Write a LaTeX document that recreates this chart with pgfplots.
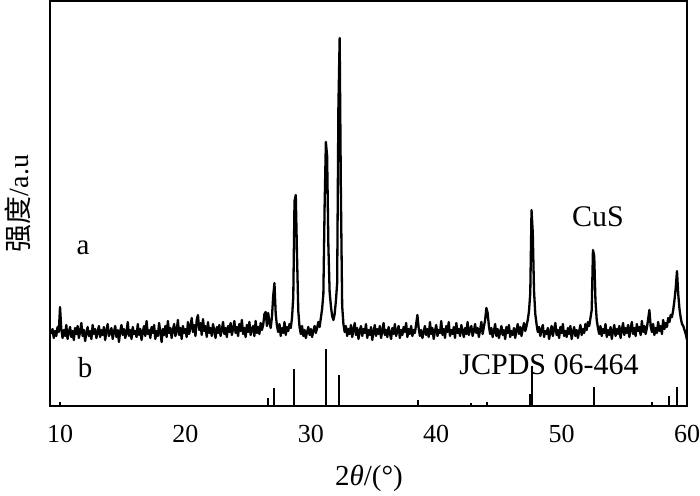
\documentclass[border=0pt]{standalone}
\usepackage{fontspec}
\setmainfont{Liberation Serif}
\newfontfamily\cjk{Noto Sans CJK SC}
\usepackage{pgfplots}
\pgfplotsset{compat=1.18}

\begin{document}
\begin{tikzpicture}
\useasboundingbox (0,0) rectangle (700pt,495pt);
\begin{axis}[
  at={(50pt,89pt)}, anchor=south west,
  scale only axis, width=637pt, height=405pt,
  xmin=9.2, xmax=60, ymin=0, ymax=405,
  xtick={10,20,...,60}, ytick=\empty,
  major tick length=0pt,
  axis line style={line width=2.6pt},
  /pgf/number format/assume math mode=true,
  xticklabel style={font=\fontsize{26}{30}\selectfont, anchor=center, yshift=-28pt},
  xlabel={2{\itshape θ}/(°)},
  xlabel style={font=\fontsize{29}{34}\selectfont, at={(rel axis cs:0.5008,-0.178)}, anchor=center},
  ylabel={{\cjk 强度}/a.u},
  ylabel style={font=\fontsize{28}{32}\selectfont, at={(rel axis cs:-0.0502,0.5)}, anchor=center},
]
% pattern a
\addplot[black, line width=2.3pt, line join=round] coordinates {
(9.3,72)(9.4,77)(9.5,68)(9.6,75)(9.7,70)(9.8,79)(9.9,74)(10.0,99)(10.1,77)(10.2,68)
(10.3,76)(10.4,70)(10.5,81)(10.6,67)(10.7,74)(10.8,79)(10.9,69)(11.0,75)(11.1,66)(11.2,78)
(11.3,72)(11.4,80)(11.5,68)(11.6,74)(11.7,83)(11.8,70)(11.9,76)(12.0,65)(12.1,73)(12.2,79)
(12.3,70)(12.4,75)(12.5,67)(12.6,81)(12.7,72)(12.8,77)(12.9,68)(13.0,74)(13.1,80)(13.2,69)
(13.3,76)(13.4,71)(13.5,79)(13.6,66)(13.7,75)(13.8,82)(13.9,70)(14.0,73)(14.1,78)(14.2,67)
(14.3,74)(14.4,80)(14.5,69)(14.6,76)(14.7,64)(14.8,75)(14.9,81)(15.0,71)(15.1,77)(15.2,68)
(15.3,73)(15.4,84)(15.5,70)(15.6,76)(15.7,67)(15.8,79)(15.9,72)(16.0,75)(16.1,69)(16.2,82)
(16.3,71)(16.4,77)(16.5,66)(16.6,74)(16.7,80)(16.8,70)(16.9,85)(17.0,72)(17.1,76)(17.2,68)
(17.3,79)(17.4,73)(17.5,81)(17.6,67)(17.7,75)(17.8,70)(17.9,83)(18.0,74)(18.1,64)(18.2,77)
(18.3,71)(18.4,80)(18.5,69)(18.6,85)(18.7,73)(18.8,78)(18.9,68)(19.0,76)(19.1,82)(19.2,70)
(19.3,75)(19.4,86)(19.5,71)(19.6,78)(19.7,67)(19.8,80)(19.9,73)(20.0,77)(20.1,69)(20.2,84)
(20.3,72)(20.4,79)(20.5,88)(20.6,74)(20.7,81)(20.8,70)(20.9,86)(21.0,91)(21.1,76)(21.2,83)
(21.3,71)(21.4,87)(21.5,75)(21.6,80)(21.7,69)(21.8,84)(21.9,73)(22.0,78)(22.1,70)(22.2,82)
(22.3,75)(22.4,68)(22.5,79)(22.6,73)(22.7,81)(22.8,70)(22.9,76)(23.0,84)(23.1,72)(23.2,78)
(23.3,69)(23.4,80)(23.5,74)(23.6,83)(23.7,71)(23.8,77)(23.9,85)(24.0,73)(24.1,79)(24.2,70)
(24.3,82)(24.4,75)(24.5,86)(24.6,72)(24.7,78)(24.8,69)(24.9,81)(25.0,74)(25.1,84)(25.2,71)
(25.3,77)(25.4,80)(25.5,70)(25.6,85)(25.7,73)(25.8,79)(25.9,72)(26.0,83)(26.1,76)(26.2,81)
(26.3,92)(26.4,94)(26.5,80)(26.6,93)(26.7,84)(26.8,78)(26.9,89)(27.0,110)(27.1,123)(27.2,92)
(27.3,80)(27.4,74)(27.5,82)(27.6,70)(27.7,78)(27.8,73)(27.9,84)(28.0,71)(28.1,79)(28.2,75)
(28.3,82)(28.4,78)(28.5,88)(28.6,109)(28.7,205)(28.8,211)(28.9,150)(29.0,95)(29.1,79)(29.2,72)
(29.3,80)(29.4,70)(29.5,76)(29.6,68)(29.7,74)(29.8,79)(29.9,71)(30.0,77)(30.1,69)(30.2,75)
(30.3,80)(30.4,73)(30.5,78)(30.6,84)(30.7,79)(30.8,88)(30.9,97)(31.0,112)(31.1,200)(31.2,264)
(31.3,250)(31.4,160)(31.5,114)(31.6,100)(31.7,90)(31.8,86)(31.9,92)(32.0,105)(32.1,123)(32.2,300)
(32.3,368)(32.4,210)(32.5,100)(32.6,82)(32.7,74)(32.8,80)(32.9,70)(33.0,77)(33.1,72)(33.2,81)
(33.3,69)(33.4,76)(33.5,83)(33.6,71)(33.7,78)(33.8,67)(33.9,75)(34.0,80)(34.1,70)(34.2,77)
(34.3,73)(34.4,82)(34.5,68)(34.6,76)(34.7,71)(34.8,79)(34.9,66)(35.0,74)(35.1,81)(35.2,70)
(35.3,77)(35.4,72)(35.5,80)(35.6,68)(35.7,75)(35.8,83)(35.9,71)(36.0,76)(36.1,69)(36.2,79)
(36.3,73)(36.4,67)(36.5,78)(36.6,72)(36.7,82)(36.8,70)(36.9,75)(37.0,80)(37.1,68)(37.2,76)
(37.3,71)(37.4,79)(37.5,74)(37.6,83)(37.7,69)(37.8,77)(37.9,72)(38.0,80)(38.1,70)(38.2,76)
(38.3,73)(38.4,82)(38.5,91)(38.6,78)(38.7,70)(38.8,76)(38.9,68)(39.0,74)(39.1,80)(39.2,71)
(39.3,77)(39.4,69)(39.5,84)(39.6,72)(39.7,78)(39.8,67)(39.9,75)(40.0,81)(40.1,70)(40.2,76)
(40.3,73)(40.4,85)(40.5,71)(40.6,77)(40.7,68)(40.8,80)(40.9,74)(41.0,84)(41.1,70)(41.2,76)
(41.3,72)(41.4,79)(41.5,68)(41.6,83)(41.7,73)(41.8,77)(41.9,70)(42.0,81)(42.1,75)(42.2,69)
(42.3,78)(42.4,72)(42.5,84)(42.6,71)(42.7,77)(42.8,80)(42.9,70)(43.0,75)(43.1,82)(43.2,73)
(43.3,78)(43.4,69)(43.5,76)(43.6,84)(43.7,72)(43.8,79)(43.9,86)(44.0,98)(44.1,93)(44.2,80)
(44.3,72)(44.4,78)(44.5,69)(44.6,75)(44.7,82)(44.8,70)(44.9,77)(45.0,68)(45.1,74)(45.2,80)
(45.3,71)(45.4,76)(45.5,67)(45.6,79)(45.7,73)(45.8,81)(45.9,69)(46.0,75)(46.1,71)(46.2,78)
(46.3,68)(46.4,76)(46.5,82)(46.6,72)(46.7,79)(46.8,70)(46.9,77)(47.0,83)(47.1,75)(47.2,80)
(47.3,86)(47.4,95)(47.5,113)(47.6,196)(47.7,173)(47.8,115)(47.9,92)(48.0,82)(48.1,74)(48.2,79)
(48.3,70)(48.4,76)(48.5,81)(48.6,69)(48.7,75)(48.8,72)(48.9,78)(49.0,67)(49.1,74)(49.2,80)
(49.3,70)(49.4,77)(49.5,83)(49.6,71)(49.7,76)(49.8,68)(49.9,79)(50.0,73)(50.1,82)(50.2,70)
(50.3,75)(50.4,69)(50.5,78)(50.6,72)(50.7,80)(50.8,67)(50.9,74)(51.0,79)(51.1,70)(51.2,76)
(51.3,68)(51.4,75)(51.5,81)(51.6,71)(51.7,77)(51.8,73)(51.9,82)(52.0,76)(52.1,84)(52.2,80)
(52.3,88)(52.4,96)(52.5,156)(52.6,150)(52.7,105)(52.8,86)(52.9,78)(53.0,72)(53.1,80)(53.2,70)
(53.3,77)(53.4,73)(53.5,82)(53.6,69)(53.7,76)(53.8,71)(53.9,79)(54.0,67)(54.1,75)(54.2,81)
(54.3,70)(54.4,77)(54.5,72)(54.6,80)(54.7,68)(54.8,76)(54.9,83)(55.0,71)(55.1,78)(55.2,73)
(55.3,81)(55.4,69)(55.5,77)(55.6,84)(55.7,72)(55.8,78)(55.9,70)(56.0,82)(56.1,75)(56.2,79)
(56.3,71)(56.4,85)(56.5,74)(56.6,80)(56.7,72)(56.8,78)(56.9,87)(57.0,96)(57.1,80)(57.2,74)
(57.3,82)(57.4,71)(57.5,78)(57.6,73)(57.7,84)(57.8,75)(57.9,80)(58.0,72)(58.1,86)(58.2,77)
(58.3,83)(58.4,79)(58.5,88)(58.6,84)(58.7,91)(58.8,89)(58.9,96)(59.0,106)(59.1,118)(59.2,135)
(59.3,112)(59.4,97)(59.5,88)(59.6,82)(59.7,80)(59.8,76)(59.9,72)(60.0,66)
};
% pattern b: JCPDS 06-464 sticks
\addplot[black, ycomb, line width=2.4pt] coordinates {
(10.0,4)(26.6,8)(27.07,18)(28.66,37)(31.21,57)(32.25,31)(38.55,6)(42.78,3)(44.05,4)
(47.5,12)(47.62,40)(52.58,19)(57.2,4)(58.56,10)(59.19,19)
};
\node[font=\fontsize{29}{34}\selectfont, inner sep=0pt] at (axis cs:11.83,158.5) {a};
\node[font=\fontsize{29}{34}\selectfont, inner sep=0pt] at (axis cs:12.0,38.5) {b};
\node[font=\fontsize{30}{35}\selectfont, inner sep=0pt] at (axis cs:52.9,189) {CuS};
\node[font=\fontsize{30}{35}\selectfont, inner sep=0pt] at (axis cs:49.0,41) {JCPDS 06-464};
\end{axis}
\end{tikzpicture}
\end{document}
